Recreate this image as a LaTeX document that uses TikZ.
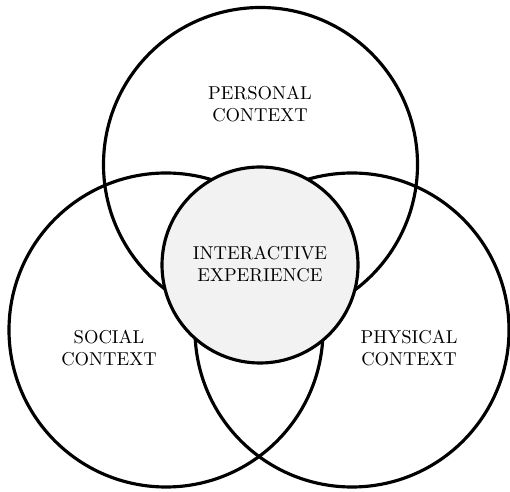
\documentclass[tikz,border=0pt]{standalone}
\usepackage{amsmath, amssymb, amsfonts}
\usepackage{tikz}
\usetikzlibrary{calc}
\usepackage{xcolor}

\definecolor{coregray}{HTML}{F2F2F2}

\begin{document}
\begin{tikzpicture}[line width=1.8pt]
  \useasboundingbox (0,0) rectangle (10.2,9.82);
  \tikzset{lbl/.style={align=center, font=\fontsize{10.6}{12.5}\selectfont}}

  \coordinate (P) at (5.21, 6.53);
  \coordinate (S) at (3.32, 3.22);
  \coordinate (H) at (7.04, 3.22);
  \coordinate (I) at (5.20, 4.52);

  % the three contexts
  \draw (P) circle (3.14);
  \draw (S) circle (3.14);
  \draw (H) circle (3.14);

  % overlap in the middle
  \draw[fill=coregray] (I) circle (1.96);

  \node[lbl] (personal) at (5.20, 7.73) {PERSONAL\\CONTEXT};
  \node[lbl] (social) at (2.18, 2.85) {SOCIAL\\CONTEXT};
  \node[lbl] (physical) at (8.18, 2.85) {PHYSICAL\\CONTEXT};
  \node[lbl] (interactive) at (5.20, 4.54) {INTERACTIVE\\EXPERIENCE};
\end{tikzpicture}
\end{document}
